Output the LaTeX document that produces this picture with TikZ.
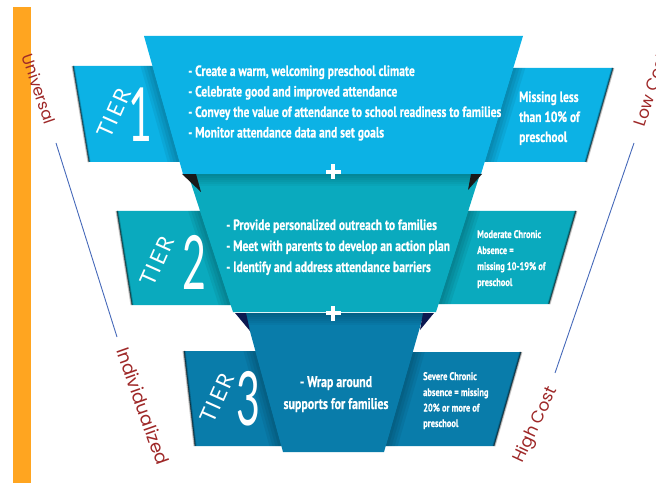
\documentclass[tikz,border=0pt]{standalone}
\usepackage{fontspec}
\setmainfont{PT Sans}
\newfontfamily\condfont[FakeStretch=0.77,FakeBold=0.6]{PT Sans}
\newfontfamily\tierfont{Lato}
\newfontfamily\sidefont{Poppins}

\definecolor{tierA}{RGB}{12,178,229}
\definecolor{tierB}{RGB}{10,170,190}
\definecolor{tierC}{RGB}{9,124,170}
\definecolor{sidered}{RGB}{158,40,40}
\definecolor{guideblue}{RGB}{70,105,185}
\definecolor{barorange}{RGB}{255,165,32}
\definecolor{foldnavy}{RGB}{12,24,80}

\tikzset{
  bul/.style={anchor=base west, inner sep=0pt, text=white,
    font=\condfont\bfseries\fontsize{15}{17}\selectfont},
  bigbul/.style={anchor=base, inner sep=0pt, text=white,
    font=\condfont\bfseries\fontsize{15.5}{18}\selectfont},
  smallbul/.style={anchor=base west, inner sep=0pt, text=white,
    font=\condfont\bfseries\fontsize{11}{13}\selectfont},
  tierword/.style={inner sep=0pt, text=white, rotate=66,
    font=\tierfont\fontsize{22}{22}\selectfont},
  tiernum/.style={inner sep=0pt, text=white, xscale=0.55,
    font=\tierfont\fontsize{75}{75}\selectfont},
  sidelabel/.style={inner sep=0pt, text=sidered,
    font=\sidefont\fontsize{17}{17}\selectfont},
  guide/.style={draw=guideblue, line width=0.9bp},
  rimsoft/.style={draw=black, opacity=0.22, line width=3bp},
  rimhard/.style={draw=black, opacity=0.5, line width=1.1bp},
  veil/.style={fill=black, opacity=0.06}
}

% soft shadow cast by a band edge onto the tab beside it
% #1,#2 = top point x,y ; #3,#4 = bottom point x,y ; #5 = +1 (to the right) or -1 (to the left)
\newcommand\bandshadow[5]{%
  \foreach \d in {3,6,9,12}{
    \fill[veil] (#1,#2) -- ({#1+#5*\d},#2) -- ({#3+#5*\d},#4) -- (#3,#4) -- cycle;
  }}

\begin{document}
\begin{tikzpicture}[x=1bp,y=-1bp]
\useasboundingbox (0,0) rectangle (656,483);

% ---------- frame: orange bar, guide lines, side labels ----------
\fill[barorange] (13,7) rectangle (31,483);

\coordinate (gl1) at (56,143);
\coordinate (gl2) at (117,337);
\coordinate (gr1) at (634,143);
\coordinate (gr2) at (555,373);
\draw[guide] (gl1) -- (gl2);
\draw[guide] (gr1) -- (gr2);

\node[sidelabel, rotate=-71, font=\sidefont\fontsize{16}{16}\selectfont] (universal) at (39,89) {Universal};
\node[sidelabel, rotate=-70.5, font=\sidefont\fontsize{18}{18}\selectfont] (individual) at (143,406) {Individualized};
\node[sidelabel, rotate=65] (highcost) at (536,425) {High Cost};
\begin{scope}
  \clip (0,0) rectangle (656,483);
  \node[sidelabel, rotate=72] (lowcost) at (651,90) {Low Cost};
\end{scope}

% ---------- Tier 3 ----------
\fill[tierC] (184,351) -- (270,351) -- (295,446) -- (195,446) -- cycle;
\fill[tierC] (400,352) -- (521,352) -- (494,446) -- (370,446) -- cycle;
\draw[rimsoft] (184,351) -- (195,446);
\draw[rimhard] (184,351) -- (195,446);
\draw[rimsoft] (521,352) -- (494,446);
\draw[rimhard] (521,352) -- (494,446);
\bandshadow{255.4}{351}{281.4}{446}{-1}
\bandshadow{412.8}{352}{385.7}{446}{1}
\fill[tierC] (245,313) -- (424,313) -- (384,452) -- (283,452) -- cycle;
\begin{scope}
  \clip (245,313) -- (424,313) -- (384,452) -- (283,452) -- cycle;
  \foreach \d in {2,4,...,12}{\fill[black, opacity=0.035] (200,313) rectangle (460,313+\d);}
\end{scope}
\fill[foldnavy] (235,313) -- (246,313) -- (250,331) -- cycle;
\fill[foldnavy] (423,313) -- (434,313) -- (420,330) -- cycle;

% ---------- Tier 2 ----------
\fill[tierB] (117,211) -- (215,211) -- (245,305) -- (132,305) -- cycle;
\fill[tierB] (455,211) -- (576,211) -- (549,304) -- (425,304) -- cycle;
\draw[rimsoft] (117,211) -- (132,305);
\draw[rimhard] (117,211) -- (132,305);
\draw[rimsoft] (576,211) -- (549,304);
\draw[rimhard] (576,211) -- (549,304);
\bandshadow{200.1}{211}{230.7}{305}{-1}
\bandshadow{468.2}{211}{438.5}{304}{1}
\fill[tierB] (188,174) -- (480,174) -- (436,312) -- (233,312) -- cycle;
\begin{scope}
  \clip (188,174) -- (480,174) -- (436,312) -- (233,312) -- cycle;
  \foreach \d in {2,4,...,12}{\fill[black, opacity=0.035] (150,174) rectangle (500,174+\d);}
\end{scope}
\fill[black!90] (182,174) -- (196,174) -- (201,192) -- cycle;
\fill[black!90] (471,174) -- (482,174) -- (468,190) -- cycle;

% ---------- Tier 1 ----------
\fill[tierA] (73,66) -- (170,66) -- (190,162) -- (89,162) -- cycle;
\fill[tierA] (500,68) -- (613,68) -- (586,162) -- (470,162) -- cycle;
\draw[rimsoft] (73,66) -- (89,162);
\draw[rimhard] (73,66) -- (89,162);
\draw[rimsoft] (613,68) -- (586,162);
\draw[rimhard] (613,68) -- (586,162);
\bandshadow{152.5}{66}{179.6}{162}{-1}
\bandshadow{513.3}{68}{484.7}{162}{1}
\fill[tierA] (144,36) -- (523,36) -- (481,174) -- (183,174) -- cycle;

% ---------- plus signs between the tiers ----------
\foreach \py in {172,313}{
  \fill[white] (325.5,\py-2.3) rectangle (340.5,\py+2.3);
  \fill[white] (330.7,\py-7.5) rectangle (335.3,\py+7.5);
}

% ---------- tier labels ----------
\node[tierword] (w1) at (114,113) {T\kern2bp I\kern2bp E\kern2bp R};
\node[tiernum] (n1) at (140,115) {1};
\node[tierword] (w2) at (157,261) {T\kern2bp I\kern2bp E\kern2bp R};
\node[tiernum] (n2) at (194,262) {2};
\node[tierword] (w3) at (217,398) {T\kern2bp I\kern2bp E\kern2bp R};
\node[tiernum] (n3) at (248,399) {3};

% ---------- tier 1 text ----------
\node[bul] (a1) at (188,76) {- Create a warm, welcoming preschool climate};
\node[bul] (a2) at (188,96.5) {- Celebrate good and improved attendance};
\node[bul] (a3) at (188,117) {- Convey the value of attendance to school readiness to families};
\node[bul] (a4) at (188,137.5) {- Monitor attendance data and set goals};
\node[bul] (m1) at (519,102) {Missing less};
\node[bul] (m2) at (519,122) {than 10\% of};
\node[bul] (m3) at (519,142) {preschool};

% ---------- tier 2 text ----------
\node[bul] (b1) at (226,230) {- Provide personalized outreach to families};
\node[bul] (b2) at (226,251) {- Meet with parents to develop an action plan};
\node[bul] (b3) at (226,272) {- Identify and address attendance barriers};
\node[smallbul] (c1) at (477,238) {Moderate Chronic};
\node[smallbul] (c2) at (477,254) {Absence =};
\node[smallbul] (c3) at (477,270) {missing 10-19\% of};
\node[smallbul] (c4) at (477,286) {preschool};

% ---------- tier 3 text ----------
\node[bigbul] (d1) at (336,387) {- Wrap around};
\node[bigbul] (d2) at (336,409) {supports for families};
\node[smallbul] (e1) at (423,380) {Severe Chronic};
\node[smallbul] (e2) at (423,396) {absence = missing};
\node[smallbul] (e3) at (423,411.5) {20\% or more of};
\node[smallbul] (e4) at (423,427) {preschool};

\end{tikzpicture}
\end{document}
